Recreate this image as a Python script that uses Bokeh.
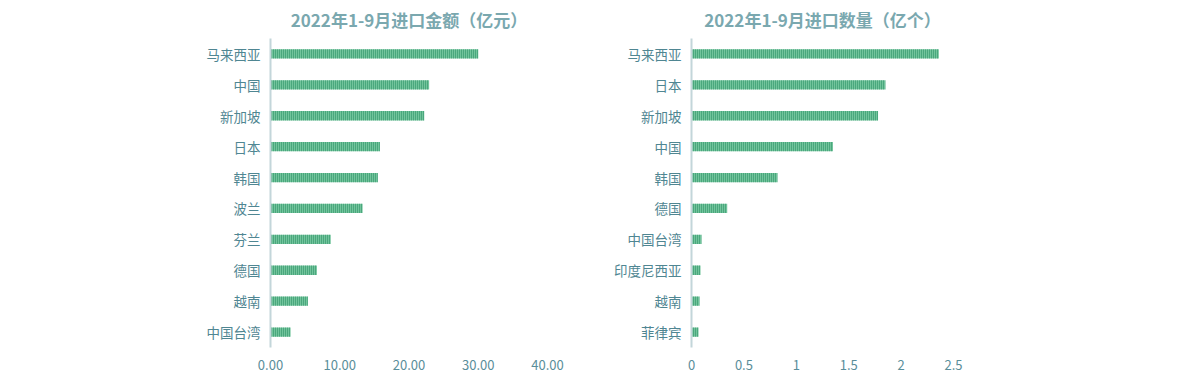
from bokeh.plotting import figure
from bokeh.layouts import row
from bokeh.models import FactorRange, FixedTicker, NumeralTickFormatter, Range1d
from bokeh.embed import file_html
from bokeh.resources import INLINE

# Left chart: import value (100 million yuan)
amount_title = "2022年1-9月进口金额（亿元）"
amount_cats = ["马来西亚", "中国", "新加坡", "日本", "韩国", "波兰", "芬兰", "德国", "越南", "中国台湾"]
amount_vals = [30.0, 22.9, 22.2, 15.8, 15.5, 13.3, 8.7, 6.7, 5.4, 2.9]
amount_ticks = [0, 10, 20, 30, 40]

# Right chart: import quantity (100 million units)
qty_title = "2022年1-9月进口数量（亿个）"
qty_cats = ["马来西亚", "日本", "新加坡", "中国", "韩国", "德国", "中国台湾", "印度尼西亚", "越南", "菲律宾"]
qty_vals = [2.36, 1.85, 1.78, 1.35, 0.82, 0.34, 0.095, 0.086, 0.076, 0.067]
qty_ticks = [0, 0.5, 1, 1.5, 2, 2.5]
qty_tick_labels = ["0", "0.5", "1", "1.5", "2", "2.5"]

FONT = "Noto Sans CJK SC"
LABEL_COLOR = "#4f8692"
TICK_COLOR = "#5a8e9a"
TITLE_COLOR = "#7aa8af"
AXIS_COLOR = "#c3d6da"
DARK = "#228a5e"
LIGHT = "#72c49c"


def make_chart(title, cats, vals, xmax, ticks, width, border_left, border_right):
    p = figure(
        width=width, height=389,
        y_range=FactorRange(factors=list(reversed(cats))),
        x_range=Range1d(0, xmax),
        output_backend="svg", toolbar_location=None,
        min_border_left=border_left, min_border_right=border_right,
        min_border_top=37, min_border_bottom=42,
        title=title,
    )
    p.hbar(y=cats, right=vals, left=0, height=0.3,
           fill_color=LIGHT, line_color=None,
           hatch_pattern="|", hatch_color=DARK, hatch_scale=2, hatch_weight=1)
    p.title.align = "center"
    p.title.text_font = FONT
    p.title.text_font_size = "17px"
    p.title.text_font_style = "bold"
    p.title.text_color = TITLE_COLOR
    p.title.standoff = 11
    p.title.vertical_align = "middle"
    p.outline_line_color = None
    p.grid.visible = False
    p.background_fill_color = None
    p.border_fill_color = None

    ya = p.yaxis[0]
    ya.axis_line_color = AXIS_COLOR
    ya.axis_line_width = 2
    ya.major_tick_line_color = None
    ya.minor_tick_line_color = None
    ya.major_label_text_font = FONT
    ya.major_label_text_font_size = "13.5px"
    ya.major_label_text_color = LABEL_COLOR
    ya.major_label_standoff = 4

    xa = p.xaxis[0]
    xa.axis_line_color = None
    xa.major_tick_line_color = None
    xa.minor_tick_line_color = None
    xa.ticker = FixedTicker(ticks=ticks)
    xa.major_label_text_font = FONT
    xa.major_label_text_font_size = "13px"
    xa.major_label_text_color = TICK_COLOR
    xa.major_label_standoff = 6
    return p


left = make_chart(amount_title, amount_cats, amount_vals, 40, amount_ticks, 592, 270, 45)
left.xaxis[0].formatter = NumeralTickFormatter(format="0.00")

right = make_chart(qty_title, qty_cats, qty_vals, 2.5, qty_ticks, 600, 99, 239)
right.xaxis[0].major_label_overrides = {t: l for t, l in zip(qty_ticks, qty_tick_labels)}

layout = row(left, right, spacing=0)
open("out.html", "w").write(file_html(layout, INLINE))
